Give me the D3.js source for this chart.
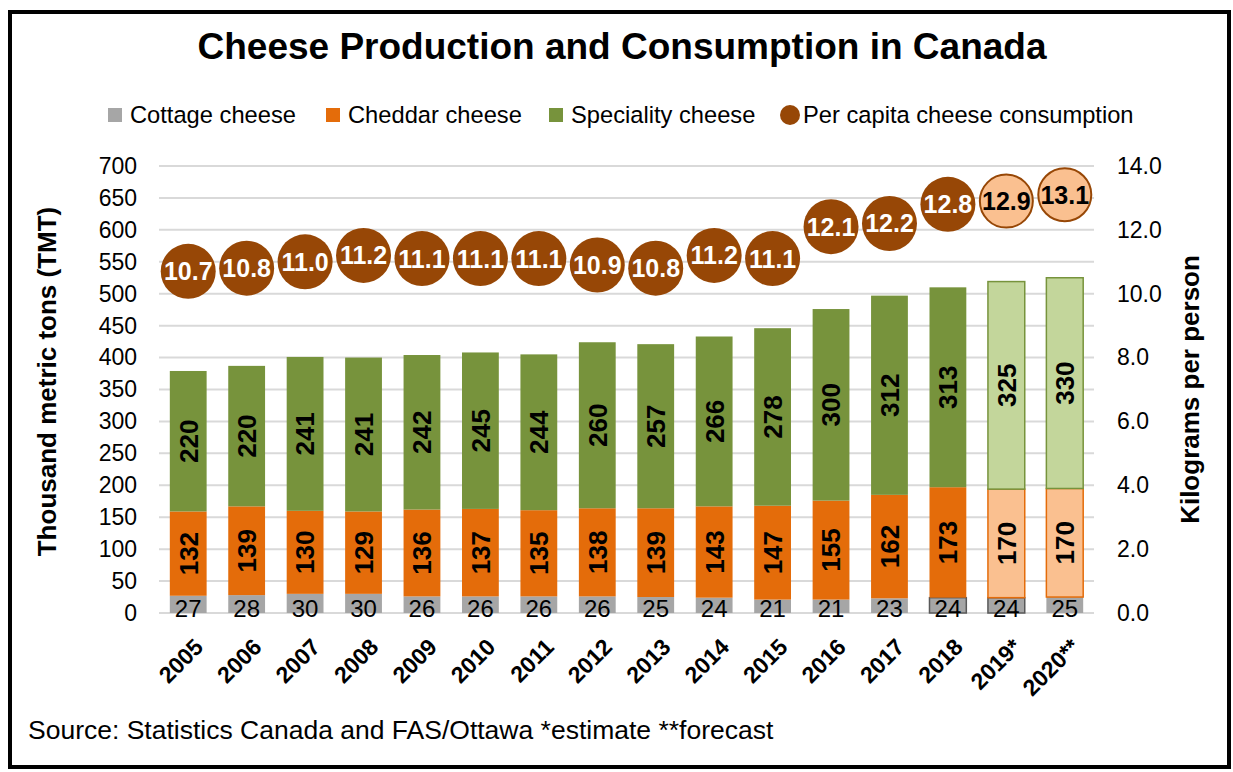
<!DOCTYPE html>
<html>
<head>
<meta charset="utf-8">
<script src="https://cdn.jsdelivr.net/npm/d3@7"></script>
<style>
  html, body { margin: 0; padding: 0; background: #fff; }
  svg { display: block; font-family: "Liberation Sans", Arial, sans-serif; }
</style>
</head>
<body>
<svg id="chart" width="1233" height="772"></svg>
<script>
// Years (estimate / forecast marked with asterisks)
const years = ["2005","2006","2007","2008","2009","2010","2011","2012","2013","2014","2015","2016","2017","2018","2019*","2020**"];
// Production, thousand metric tons
const cottage    = [27, 28, 30, 30, 26, 26, 26, 26, 25, 24, 21, 21, 23, 24, 24, 25];
const cheddar    = [132, 139, 130, 129, 136, 137, 135, 138, 139, 143, 147, 155, 162, 173, 170, 170];
const speciality = [220, 220, 241, 241, 242, 245, 244, 260, 257, 266, 278, 300, 312, 313, 325, 330];
// Per capita consumption, kg per person
const perCapita  = [10.7, 10.8, 11.0, 11.2, 11.1, 11.1, 11.1, 10.9, 10.8, 11.2, 11.1, 12.1, 12.2, 12.8, 12.9, 13.1];
// Years that are estimates or forecasts are drawn in lighter tints
const projected  = [false,false,false,false,false,false,false,false,false,false,false,false,false,false,true,true];

const leftTicks  = d3.range(0, 701, 50);
const rightTicks = d3.range(0, 14.01, 2);

const colors = {
  cottage: "#A6A6A6",
  cheddar: "#E46C0A", cheddarLight: "#FAC090",
  speciality: "#77933C", specialityLight: "#C3D69B",
  circle: "#974706", circleLight: "#FAC090"
};

const svg = d3.select("#chart");
const plot = { left: 159, right: 1094, top: 166, bottom: 613 };

const x = d3.scaleBand().domain(years).range([plot.left, plot.right]).paddingInner(0.37).paddingOuter(0.185);
const y = d3.scaleLinear().domain([0, 700]).range([plot.bottom, plot.top]);
const y2 = d3.scaleLinear().domain([0, 14]).range([plot.bottom, plot.top]);

// Outer frame
svg.append("rect").attr("x", 10).attr("y", 12).attr("width", 1219).attr("height", 755)
  .attr("fill", "none").attr("stroke", "#000").attr("stroke-width", 4);

// Title
svg.append("text").attr("x", 622).attr("y", 59).attr("text-anchor", "middle")
  .attr("font-size", 37).attr("font-weight", "bold").attr("fill", "#000")
  .text("Cheese Production and Consumption in Canada");

// Legend
const legend = [
  { type: "rect", color: colors.cottage, label: "Cottage cheese", x: 108 },
  { type: "rect", color: colors.cheddar, label: "Cheddar cheese", x: 326 },
  { type: "rect", color: colors.speciality, label: "Speciality cheese", x: 549 },
  { type: "circle", color: colors.circle, label: "Per capita cheese consumption", x: 780 }
];
const lg = svg.append("g");
legend.forEach(d => {
  if (d.type === "rect") {
    lg.append("rect").attr("x", d.x).attr("y", 108).attr("width", 14).attr("height", 14).attr("fill", d.color);
    lg.append("text").attr("x", d.x + 22).attr("y", 123).attr("font-size", 23.7).text(d.label);
  } else {
    lg.append("circle").attr("cx", d.x + 10).attr("cy", 115).attr("r", 10).attr("fill", d.color);
    lg.append("text").attr("x", d.x + 23).attr("y", 123).attr("font-size", 23.7).text(d.label);
  }
});

// Gridlines
svg.append("g").selectAll("line").data(leftTicks).join("line")
  .attr("x1", plot.left).attr("x2", plot.right)
  .attr("y1", d => y(d)).attr("y2", d => y(d))
  .attr("stroke", "#D9D9D9").attr("stroke-width", 2);

// Left axis
const leftAxis = svg.append("g").attr("transform", `translate(${plot.left - 14},0)`)
  .call(d3.axisLeft(y).tickValues(leftTicks).tickSize(0).tickPadding(8).tickFormat(d3.format("d")));
leftAxis.select(".domain").remove();
leftAxis.selectAll("text").attr("font-size", 23).attr("fill", "#000").attr("font-family", "Liberation Sans, Arial, sans-serif");

// Right axis
const rightAxis = svg.append("g").attr("transform", `translate(${plot.right + 15},0)`)
  .call(d3.axisRight(y2).tickValues(rightTicks).tickSize(0).tickPadding(8).tickFormat(d3.format(".1f")));
rightAxis.select(".domain").remove();
rightAxis.selectAll("text").attr("font-size", 23).attr("fill", "#000").attr("font-family", "Liberation Sans, Arial, sans-serif");

// Axis titles
svg.append("text").attr("transform", `translate(56,${(plot.top + plot.bottom) / 2 - 8}) rotate(-90)`)
  .attr("text-anchor", "middle").attr("font-size", 26).attr("font-weight", "bold")
  .text("Thousand metric tons (TMT)");
svg.append("text").attr("transform", `translate(1199,${(plot.top + plot.bottom) / 2}) rotate(-90)`)
  .attr("text-anchor", "middle").attr("font-size", 26).attr("font-weight", "bold")
  .text("Kilograms per person");

// Stacked bars
const rows = years.map((yr, i) => ({ year: yr, i, cottage: cottage[i], cheddar: cheddar[i], speciality: speciality[i] }));
const stack = d3.stack().keys(["cottage", "cheddar", "speciality"])(rows);

const fillFor = (key, i) => {
  if (key === "cottage") return colors.cottage;
  if (key === "cheddar") return projected[i] ? colors.cheddarLight : colors.cheddar;
  return projected[i] ? colors.specialityLight : colors.speciality;
};
const strokeFor = (key, i) => {
  if (key === "cottage") return (i === 13 || i === 14) ? "#595959" : "none";
  if (key === "cheddar") return projected[i] ? colors.cheddar : "none";
  return projected[i] ? colors.speciality : "none";
};

const bars = svg.append("g");
stack.forEach(layer => {
  const key = layer.key;
  bars.append("g").selectAll("rect").data(layer).join("rect")
    .attr("x", d => x(d.data.year))
    .attr("width", x.bandwidth())
    .attr("y", d => y(d[1]))
    .attr("height", d => y(d[0]) - y(d[1]))
    .attr("fill", d => fillFor(key, d.data.i))
    .attr("stroke", d => strokeFor(key, d.data.i))
    .attr("stroke-width", 1.5);
});

// Segment labels
const labels = svg.append("g");
stack.forEach(layer => {
  const key = layer.key;
  layer.forEach(d => {
    const cx = x(d.data.year) + x.bandwidth() / 2;
    const cy = (y(d[0]) + y(d[1])) / 2;
    const v = d.data[key];
    if (key === "cottage") {
      labels.append("text").attr("x", cx).attr("y", plot.bottom + 4)
        .attr("text-anchor", "middle").attr("font-size", 24).attr("fill", "#000").text(v);
    } else {
      labels.append("text").attr("transform", `translate(${cx},${cy}) rotate(-90)`)
        .attr("dy", "0.36em").attr("text-anchor", "middle")
        .attr("font-size", 26).attr("font-weight", "bold").attr("fill", "#000").text(v);
    }
  });
});

// Per capita consumption bubbles
const bub = svg.append("g").selectAll("g").data(perCapita).join("g")
  .attr("transform", (d, i) => `translate(${x(years[i]) + x.bandwidth() / 2},${y2(d)})`);
bub.append("circle").attr("r", (d, i) => projected[i] ? 26.5 : 27.5)
  .attr("fill", (d, i) => projected[i] ? colors.circleLight : colors.circle)
  .attr("stroke", colors.circle).attr("stroke-width", (d, i) => projected[i] ? 2 : 0);
bub.append("text").attr("text-anchor", "middle").attr("dy", "0.36em")
  .attr("font-size", 25).attr("font-weight", "bold")
  .attr("fill", (d, i) => projected[i] ? "#000" : "#fff")
  .text(d => d.toFixed(1));

// Year labels on the category axis
svg.append("g").selectAll("text").data(years).join("text")
  .attr("transform", d => `translate(${x(d) + x.bandwidth() / 2 + 5},${plot.bottom + 24}) rotate(-45)`)
  .attr("text-anchor", "end").attr("dy", "0.7em")
  .attr("font-size", 23).attr("font-weight", "bold").text(d => d);

// Source note
svg.append("text").attr("x", 28).attr("y", 739).attr("font-size", 26.5)
  .text("Source: Statistics Canada and FAS/Ottawa *estimate **forecast");
</script>
</body>
</html>
